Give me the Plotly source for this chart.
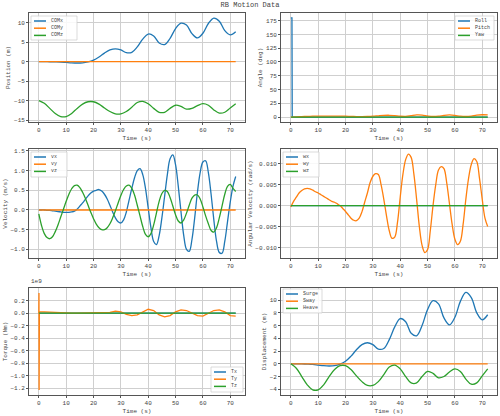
import plotly.graph_objects as go

# time grids
t1 = list(range(0, 73))          # 1 s steps
t2 = list(range(0, 73, 2))       # 2 s steps

surge = [0, 0, -0.02, -0.05, -0.1, -0.2, -0.3, -0.35, -0.3, -0.05, 0.4, 1.2, 2.2, 3.0, 3.3, 3.0, 2.3, 2.4, 3.8,
         5.8, 7.1, 6.6, 4.8, 4.4, 6.0, 8.5, 9.9, 9.4, 7.2, 6.1, 7.3, 9.8, 11.2, 10.4, 8.0, 6.9, 7.7]
sway = [0] * 37
heave = [0, -0.7, -2.0, -3.3, -4.1, -4.1, -3.3, -2.0, -0.9, -0.3, -0.3, -0.9, -1.9, -2.8, -3.4, -3.4, -2.8, -1.7,
         -0.5, -0.2, -0.8, -2.0, -3.0, -3.0, -2.0, -1.2, -1.5, -2.2, -2.0, -1.3, -0.8, -1.2, -2.4, -3.2, -3.0, -1.9, -0.8]
com_x = [0, 0, -0.02, -0.05, -0.1, -0.2, -0.3, -0.35, -0.3, -0.05, 0.4, 1.2, 2.2, 3.0, 3.3, 3.0, 2.3, 2.4, 3.8,
         5.8, 7.1, 6.6, 4.8, 4.4, 6.0, 8.5, 9.9, 9.4, 7.2, 6.1, 7.3, 9.8, 11.2, 10.4, 8.0, 6.9, 7.7]
com_y = [0] * 37
com_z = [-10, -10.7, -12.0, -13.3, -14.1, -14.1, -13.3, -12.0, -10.9, -10.3, -10.3, -10.9, -11.9, -12.8, -13.4,
         -13.4, -12.8, -11.7, -10.5, -10.2, -10.8, -12.0, -13.0, -13.0, -12.0, -11.2, -11.5, -12.2, -12.0, -11.3,
         -10.8, -11.2, -12.4, -13.2, -13.0, -11.9, -10.8]

roll_t = [0, 0.4, 0.5, 72]
roll = [180, 180, 0, 0]
pitch = [0, 0.3, 0.8, 1.2, 1.5, 1.7, 1.8, 1.8, 1.8, 1.7, 1.5, 1.2, 0.9, 0.8, 1.0, 1.5, 2.3, 3.0, 3.2, 2.5, 1.5,
         1.2, 2.5, 3.8, 3.5, 2.0, 1.0, 1.5, 3.0, 3.8, 3.0, 1.5, 1.0, 1.8, 3.5, 4.2, 3.8]
yaw = [0] * 37

vx = [0, 0, 0, -0.01, -0.01, -0.02, -0.03, -0.04, -0.05, -0.06, -0.06, -0.06, -0.05, -0.03, 0.02, 0.1, 0.18, 0.27,
      0.36, 0.43, 0.48, 0.5, 0.52, 0.48, 0.4, 0.28, 0.12, -0.05, -0.2, -0.3, -0.33, -0.25, -0.05, 0.25, 0.55, 0.82,
      1.0, 1.05, 0.9, 0.55, 0.05, -0.45, -0.8, -0.88, -0.65, -0.2, 0.35, 0.9, 1.3, 1.4, 1.15, 0.6, -0.05, -0.65,
      -1.0, -1.05, -0.75, -0.2, 0.45, 0.95, 1.22, 1.25, 0.95, 0.4, -0.25, -0.8, -1.08, -1.1, -0.8, -0.3, 0.2, 0.6, 0.85]
vy = [0] * 73
vz = [-0.1, -0.4, -0.6, -0.7, -0.73, -0.68, -0.55, -0.38, -0.18, 0.02, 0.22, 0.4, 0.54, 0.62, 0.63, 0.57, 0.45,
      0.3, 0.12, -0.06, -0.22, -0.36, -0.45, -0.5, -0.5, -0.45, -0.35, -0.2, -0.02, 0.18, 0.37, 0.52, 0.61, 0.63,
      0.55, 0.38, 0.12, -0.15, -0.42, -0.62, -0.68, -0.6, -0.38, -0.08, 0.22, 0.42, 0.5, 0.47, 0.32, 0.1, -0.12,
      -0.28, -0.33, -0.25, -0.08, 0.12, 0.3, 0.38, 0.38, 0.28, 0.08, -0.15, -0.35, -0.52, -0.56, -0.45, -0.2, 0.1,
      0.4, 0.6, 0.65, 0.55, 0.47]

wx = [0] * 73
wy = [-0.0003, 0.001, 0.002, 0.003, 0.0036, 0.004, 0.0041, 0.004, 0.0037, 0.0033, 0.003, 0.0026, 0.0022, 0.0018,
      0.0014, 0.001, 0.0008, 0.0004, 0, -0.0007, -0.0014, -0.0022, -0.003, -0.0035, -0.0036, -0.003, -0.0015,
      0.0008, 0.003, 0.0055, 0.007, 0.0076, 0.0074, 0.005, 0.0015, -0.0025, -0.006, -0.0078, -0.0075, -0.004,
      0.002, 0.0075, 0.011, 0.0123, 0.0115, 0.0075, 0.0015, -0.005, -0.0095, -0.0112, -0.0105, -0.006, 0, 0.005,
      0.0085, 0.0093, 0.0088, 0.0055, 0.0005, -0.0045, -0.008, -0.0093, -0.0085, -0.0045, 0.0015, 0.0065, 0.0098,
      0.0112, 0.0105, 0.0065, 0.0015, -0.003, -0.005]
wz = [0] * 73

# torque in units of 1e9 N·m
ty_t = [0, 0.05, 0.1, 0.2] + list(range(2, 73, 2))
ty = [0, 0.32, -1.23, 0.02, 0.02, 0.015, 0.005, 0, 0, 0, 0, 0, 0, 0, 0, 0, 0.01, 0.03, 0.02, -0.02, -0.04, -0.03,
      0.02, 0.06, 0.04, -0.03, -0.06, -0.04, 0.02, 0.05, 0.04, 0, -0.04, -0.05, -0.01, 0.04, 0.05, 0.02, -0.04, -0.05]
tx = [0] * 37
tz = [0] * 37

C = ['#1f77b4', '#ff7f0e', '#2ca02c']
FONT = 'Liberation Mono'
W, H = 500, 416
ML, MR, MT, MB = 28, 3, 10, 18


def px(x):
    return (x - ML) / (W - ML - MR)


def py(y):
    return (H - MB - y) / (H - MT - MB)


xdom = [[px(29), px(245)], [px(281), px(497)]]
ydom = [[py(122), py(13)], [py(258), py(149)], [py(395), py(288)]]

fig = go.Figure()

# (panel, series, y title, y range, legend box left/top/right/bottom in pixels)
panels = [
    (1, [(t2, com_x, 'COMx'), (t2, com_y, 'COMy'), (t2, com_z, 'COMz')], 'Position (m)', [-15.5, 12.5], (31, 16, 77, 40)),
    (2, [(roll_t, roll, 'Roll'), (t2, pitch, 'Pitch'), (t2, yaw, 'Yaw')], 'Angle (deg)', [-9, 189], (455, 16, 494, 40)),
    (3, [(t1, vx, 'vx'), (t1, vy, 'vy'), (t1, vz, 'vz')], 'Velocity (m/s)', [-1.22, 1.55], (31, 152, 67, 177)),
    (4, [(t1, wx, 'wx'), (t1, wy, 'wy'), (t1, wz, 'wz')], 'Angular Velocity (rad/s)', [-0.0125, 0.0135], (283, 152, 319, 177)),
    (5, [(t2, tx, 'Tx'), (ty_t, ty, 'Ty'), (t2, tz, 'Tz')], 'Torque (Nm)', [-1.31, 0.4], (211, 367, 243, 392)),
    (6, [(t2, surge, 'Surge'), (t2, sway, 'Sway'), (t2, heave, 'Heave')], 'Displacement (m)', [-4.9, 11.9], (283, 289, 322, 313)),
]

shapes = []
annos = []
for n, series, ytitle, yr, box in panels:
    sfx = '' if n == 1 else str(n)
    for i, (tx_, yv, name) in enumerate(series):
        fig.add_trace(go.Scatter(x=tx_, y=yv, name=name, mode='lines', showlegend=False,
                                 line=dict(color=C[i], width=1.3, shape='spline' if name not in ('Roll', 'Ty') else 'linear'),
                                 xaxis='x' + sfx, yaxis='y' + sfx))
    col = (n - 1) % 2
    row = (n - 1) // 2
    ax = dict(showline=True, linecolor='#555', linewidth=0.8, mirror=True, gridcolor='#cfcfcf', gridwidth=1,
              ticks='outside', ticklen=2, tickcolor='#555', zeroline=False,
              automargin=False, tickfont=dict(size=6, color='#444'))
    fig.layout['xaxis' + sfx] = dict(ax, domain=xdom[col], anchor='y' + sfx, range=[-3.6, 75.4],
                                     tickvals=[0, 10, 20, 30, 40, 50, 60, 70],
                                     title=dict(text='Time (s)', font=dict(size=6, color='#444'), standoff=2))
    fig.layout['yaxis' + sfx] = dict(ax, domain=ydom[row], anchor='x' + sfx, range=yr,
                                     title=dict(text=ytitle, font=dict(size=6, color='#444'), standoff=2))

    # legend box drawn by hand, matplotlib-style
    l, t, r, b = box
    shapes.append(dict(type='rect', xref='paper', yref='paper', x0=px(l), x1=px(r), y0=py(b), y1=py(t),
                       line=dict(color='#ccc', width=0.7), fillcolor='rgba(255,255,255,0.85)', layer='above'))
    for i, (_, _, name) in enumerate(series):
        yy = t + 5 + i * 7.2
        shapes.append(dict(type='line', xref='paper', yref='paper', x0=px(l + 3), x1=px(l + 15), y0=py(yy), y1=py(yy),
                           line=dict(color=C[i], width=1.5), layer='above'))
        annos.append(dict(text=name, x=px(l + 18), y=py(yy), xref='paper', yref='paper', xanchor='left',
                          yanchor='middle', showarrow=False, font=dict(size=5, color='#444', family=FONT)))

fig.layout['yaxis'].tickvals = [-15, -10, -5, 0, 5, 10]
fig.layout['yaxis2'].tickvals = [0, 25, 50, 75, 100, 125, 150, 175]
fig.layout['yaxis3'].tickvals = [-1.0, -0.5, 0, 0.5, 1.0, 1.5]
fig.layout['yaxis3'].tickformat = '.1f'
fig.layout['yaxis4'].tickvals = [-0.01, -0.005, 0, 0.005, 0.01]
fig.layout['yaxis4'].tickformat = '.3f'
fig.layout['yaxis5'].tickvals = [-1.2, -1.0, -0.8, -0.6, -0.4, -0.2, 0, 0.2]
fig.layout['yaxis5'].tickformat = '.1f'
fig.layout['yaxis6'].tickvals = [-4, -2, 0, 2, 4, 6, 8, 10]

annos.append(dict(text='1e9', x=px(29), y=py(287), xref='paper', yref='paper', xanchor='left', yanchor='bottom',
                  showarrow=False, font=dict(size=6, color='#444', family=FONT)))

fig.update_layout(
    width=W, height=H,
    margin=dict(l=ML, r=MR, t=MT, b=MB),
    paper_bgcolor='white', plot_bgcolor='white',
    font=dict(family=FONT, size=6, color='#444'),
    title=dict(text='RB Motion Data', x=0.5, y=0.996, xanchor='center', yanchor='top', font=dict(size=7, color='#444')),
    shapes=shapes, annotations=annos,
)

fig.write_html("out.html", config={'displayModeBar': False},
               post_script="document.body.style.margin='0';document.body.style.overflow='hidden';")
